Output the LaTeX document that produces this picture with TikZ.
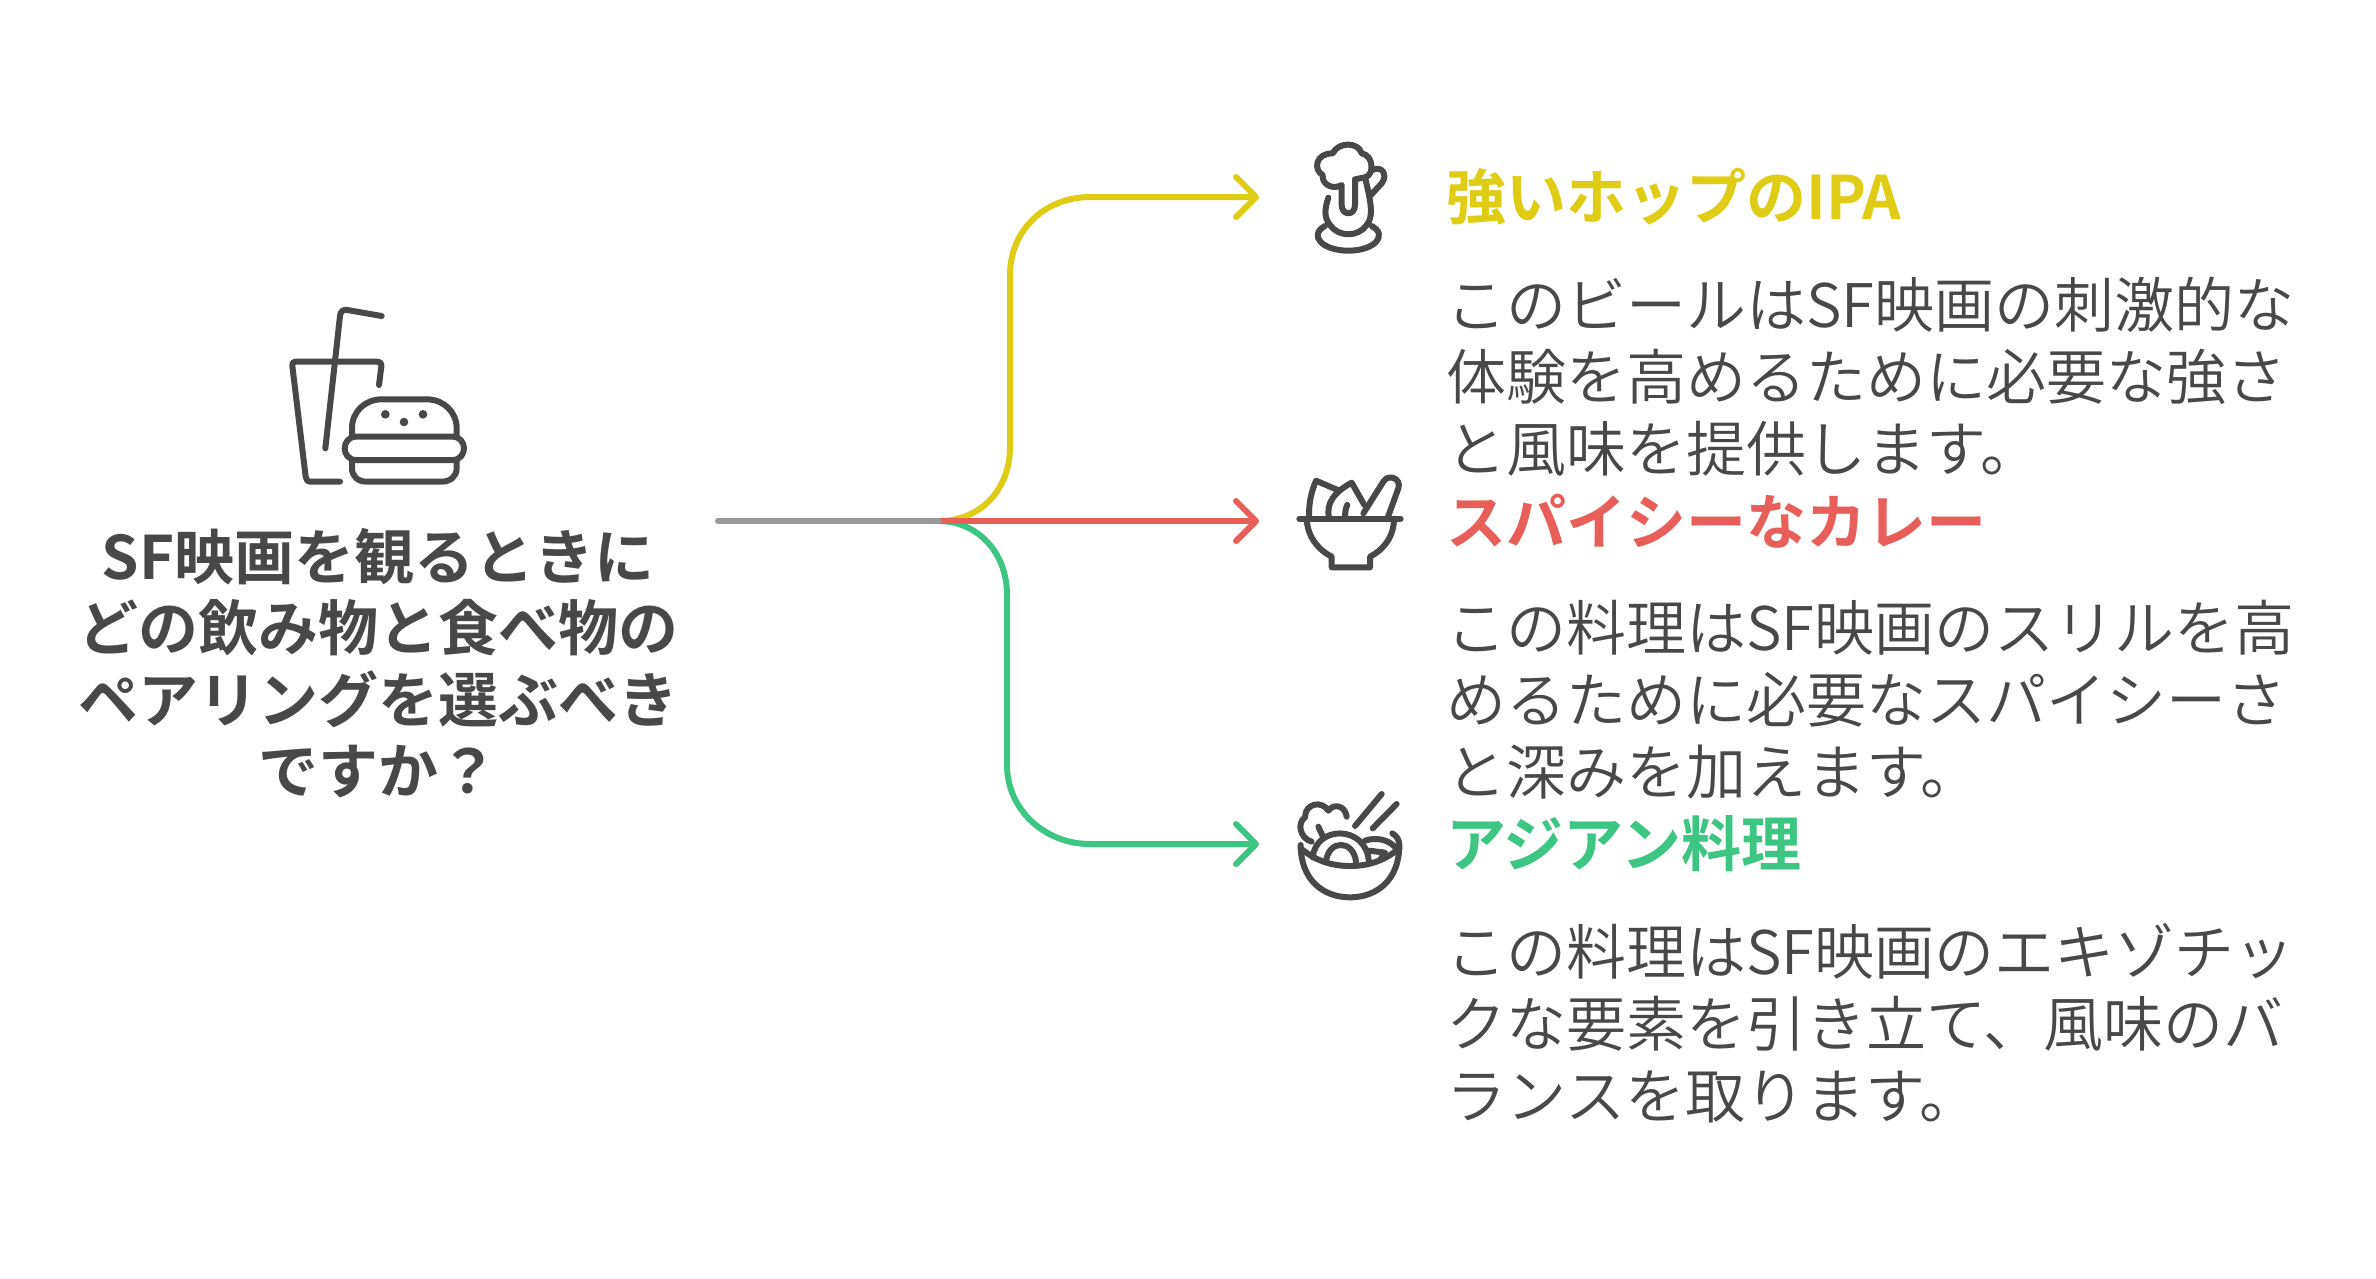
\documentclass[tikz,border=0pt]{standalone}
\usepackage{fontspec}
\setmainfont{Noto Sans CJK JP}[UprightFont=* DemiLight, BoldFont=* Bold]
\usetikzlibrary{arrows.meta}
\definecolor{inkgray}{HTML}{484848}
\definecolor{stemgray}{HTML}{999999}
\definecolor{ipayellow}{HTML}{E0CB15}
\definecolor{curryred}{HTML}{E85E58}
\definecolor{asiangreen}{HTML}{3CC583}

\begin{document}
\begin{tikzpicture}
	[x=1pt, y=-1pt, inner sep=0pt,
	title/.style	= {font=\fontsize{60}{71.5}\selectfont\bfseries, text=inkgray, align=center},
	heading/.style	= {anchor=west, font=\fontsize{60}{72}\selectfont\bfseries},
	body/.style		= {anchor=north west, font=\fontsize{60}{72}\selectfont, text=inkgray, align=left},
	paths/.style	= {line width=6pt, line cap=round, line join=round, -{Straight Barb[length=20pt,width=40pt,round]}},
	icon/.style		= {draw=inkgray, line width=6pt, line cap=round, line join=round}]
	
	\useasboundingbox (0,0) rectangle (2376,1278);
	
	\coordinate (start)		at (718, 521);
	\coordinate (fork)		at (939, 521);
	\coordinate (ipatip)	at (1259, 197);
	\coordinate (currytip)	at (1259, 521);
	\coordinate (asiantip)	at (1259, 844);
	
	\node at (378, 663)		[title]				(question)	{SF映画を観るときに\\どの飲み物と食べ物の\\ペアリングを選ぶべき\\ですか？};
	
	\node at (1446, 197)	[heading, text=ipayellow]	(ipa)	{強いホップのIPA};
	\node at (1446, 521)	[heading, text=curryred]	(curry)	{スパイシーなカレー};
	\node at (1446, 844)	[heading, text=asiangreen]	(asian)	{アジアン料理};
	
	\node at (1446, 277)	[body]	(ipatext)	{このビールはSF映画の刺激的な\\体験を高めるために必要な強さ\\と風味を提供します。};
	\node at (1446, 600)	[body]	(currytext)	{この料理はSF映画のスリルを高\\めるために必要なスパイシーさ\\と深みを加えます。};
	\node at (1446, 923)	[body]	(asiantext)	{この料理はSF映画のエキゾチッ\\クな要素を引き立て、風味のバ\\ランスを取ります。};
	
	\draw [paths, draw=ipayellow] (fork) .. controls (980, 521) and (1010, 490) .. (1010, 447) -- (1010, 275) .. controls (1010, 230) and (1045, 197) .. (1090, 197) -- (ipatip);
	\draw [paths, draw=asiangreen] (fork) .. controls (975, 521) and (1007, 550) .. (1007, 595) -- (1007, 765) .. controls (1007, 810) and (1045, 844) .. (1090, 844) -- (asiantip);
	\draw [paths, draw=curryred] (fork) -- (currytip);
	\draw [line width=6pt, line cap=round, draw=stemgray] (start) -- (fork);
	
	% drink and burger
	\begin{scope}[shift={(260,280)}, scale=1/3]
		\draw [icon] (240,605) -- (152,605) .. controls (142,605) and (138,598) .. (137,590) -- (97,258) .. controls (96,250) and (98,245) .. (106,245) -- (350,245) .. controls (360,245) and (365,250) .. (364,260) -- (357,315);
		\draw [icon] (196,505) -- (240,108) .. controls (242,92) and (250,88) .. (262,90) -- (365,108);
		\draw [icon] (276,470) -- (276,445) .. controls (276,395) and (315,358) .. (365,358) -- (500,358) .. controls (550,358) and (590,395) .. (590,445) -- (590,470);
		\draw [icon] (288,470) -- (578,470) .. controls (600,470) and (612,488) .. (612,505) .. controls (612,522) and (600,540) .. (578,540) -- (288,540) .. controls (266,540) and (254,522) .. (254,505) .. controls (254,488) and (266,470) .. (288,470) -- cycle;
		\draw [icon] (276,540) -- (276,565) .. controls (276,590) and (295,605) .. (320,605) -- (545,605) .. controls (570,605) and (590,590) .. (590,565) -- (590,540);
		\fill [inkgray] (376,403) circle (13pt) (432,426) circle (13pt) (489,403) circle (13pt);
	\end{scope}
	
	% beer mug
	\begin{scope}[shift={(1270,120)}, scale=1/3]
		\draw [icon] (215,195) .. controls (190,210) and (155,195) .. (158,165) .. controls (130,150) and (135,100) .. (188,100) .. controls (205,65) and (265,65) .. (275,100) .. controls (310,105) and (315,165) .. (285,172) -- (255,178) -- (255,255) .. controls (255,288) and (215,288) .. (215,255) -- cycle;
		\draw [icon] (175,233) .. controls (165,265) and (160,290) .. (180,315) .. controls (205,352) and (265,352) .. (290,315) .. controls (310,290) and (305,255) .. (285,172);
		\draw [icon] (307,150) .. controls (335,135) and (355,165) .. (335,190) -- (300,228);
		\draw [icon] (165,318) .. controls (115,345) and (155,392) .. (235,392) .. controls (315,392) and (355,345) .. (305,318);
	\end{scope}
	
	% salad bowl
	\begin{scope}[shift={(1270,450)}, scale=1/3]
		\draw [icon] (88,206) -- (392,206);
		\draw [icon] (110,206) .. controls (112,260) and (145,300) .. (185,320) -- (185,352) -- (300,352) -- (300,320) .. controls (340,300) and (372,260) .. (372,206);
		\draw [icon] (118,206) .. controls (115,165) and (122,130) .. (138,92) -- (208,122);
		\draw [icon] (178,206) .. controls (165,160) and (195,125) .. (245,98) -- (283,165);
		\draw [icon] (225,206) .. controls (225,190) and (226,175) .. (232,165);
		\draw [icon] (280,190) -- (340,95) .. controls (355,70) and (395,85) .. (385,115) -- (352,206);
	\end{scope}
	
	% noodle bowl
	\begin{scope}[shift={(1270,780)}, scale=1/3]
		\draw [icon] (92,195) .. controls (92,300) and (160,352) .. (240,352) .. controls (320,352) and (388,300) .. (388,195) .. controls (388,180) and (380,168) .. (367,160);
		\draw [icon] (92,205) .. controls (140,245) and (190,258) .. (240,258) .. controls (290,258) and (340,245) .. (388,205);
		\draw [icon] (255,138) -- (335,42);
		\draw [icon] (308,145) -- (380,72);
		\draw [icon] (230,110) .. controls (225,75) and (190,70) .. (175,92) .. controls (155,60) and (105,70) .. (105,112) .. controls (80,130) and (90,175) .. (125,185);
		\draw [icon] (145,140) -- (158,168);
		\draw [icon] (128,232) .. controls (138,135) and (285,135) .. (296,240);
		\draw [icon] (168,245) .. controls (175,178) and (250,178) .. (258,245);
		\draw [icon] (285,182) .. controls (320,170) and (360,180) .. (378,205);
		\draw [icon] (298,212) -- (345,218) -- (330,240);
	\end{scope}
\end{tikzpicture}
\end{document}
